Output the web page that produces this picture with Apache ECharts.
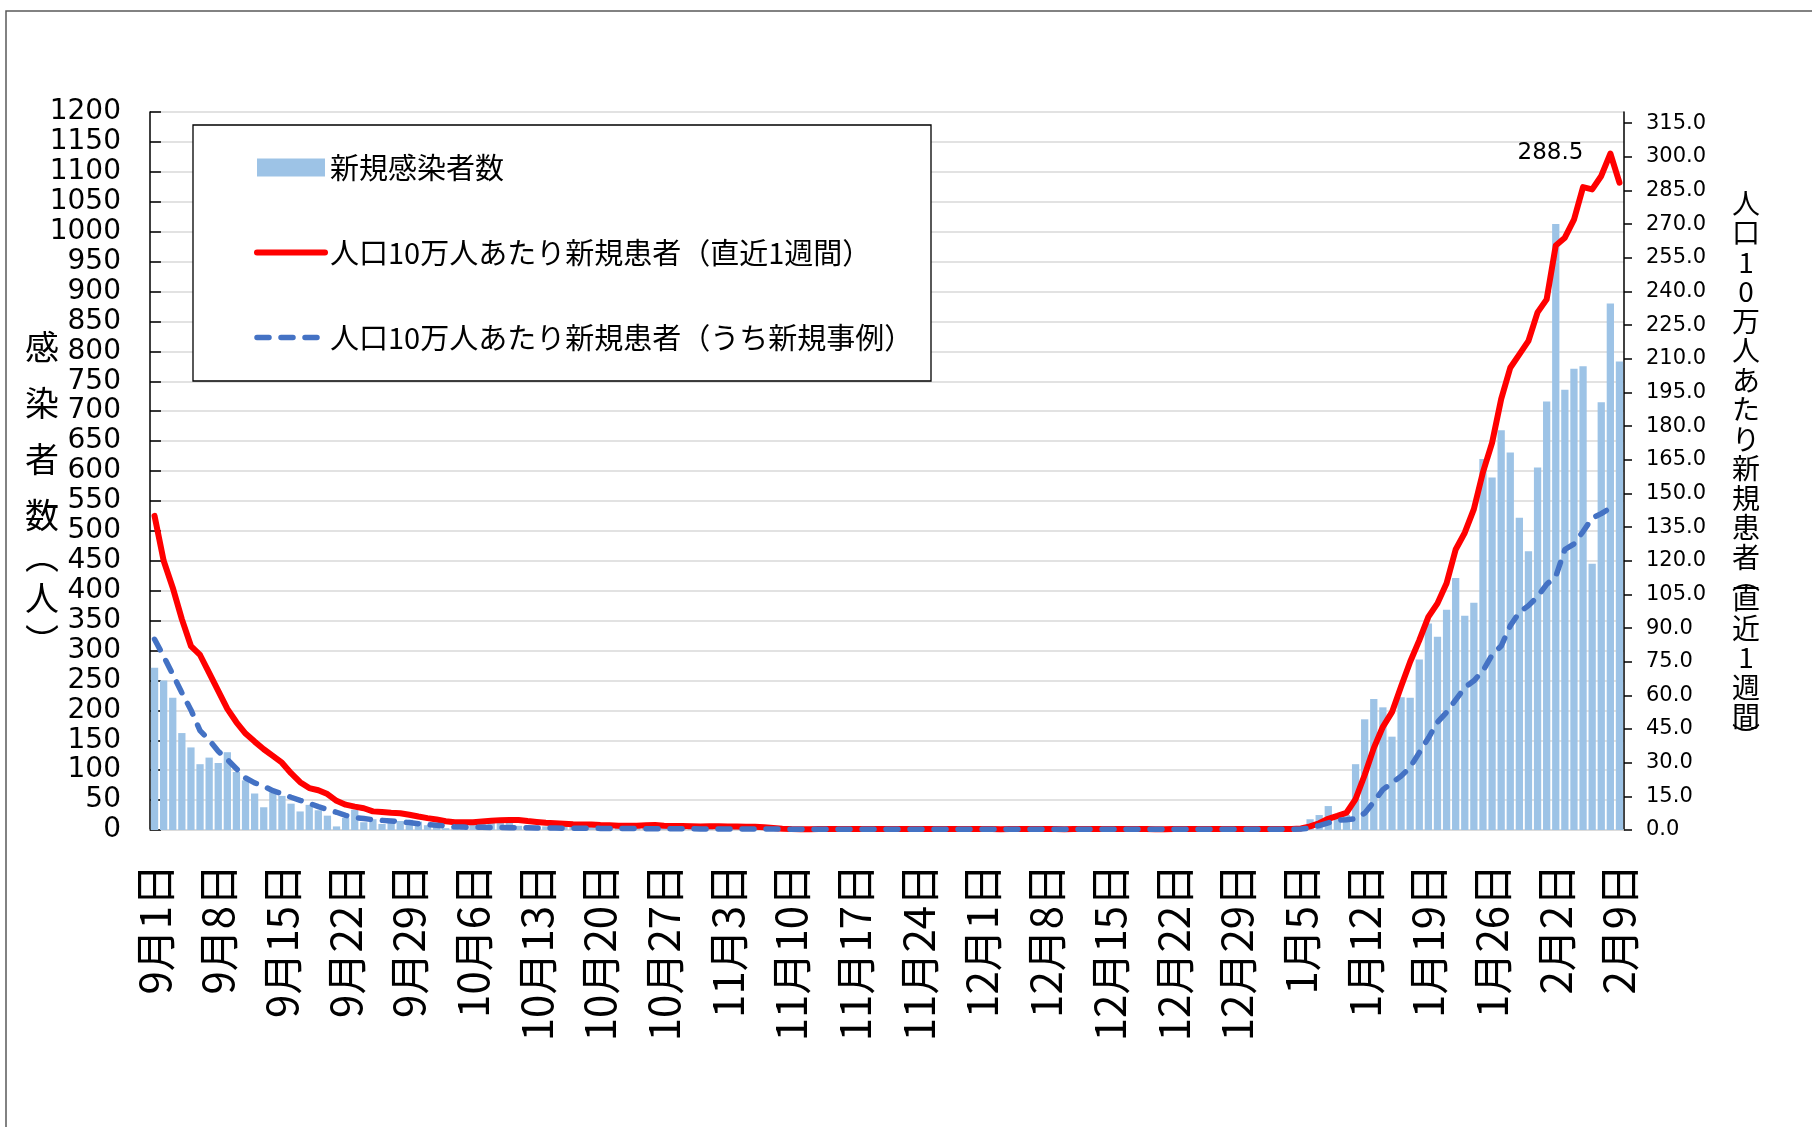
<!DOCTYPE html>
<html>
<head>
<meta charset="utf-8">
<script src="https://cdn.jsdelivr.net/npm/echarts@6/dist/echarts.min.js"></script>
<style>
html,body{margin:0;padding:0;background:#fff;}
#chart{width:1812px;height:1127px;}
</style>
</head>
<body>
<div id="chart"></div>
<script>
// ---- categories (dates) ----
const catSep = ['9月1日','9月2日','9月3日','9月4日','9月5日','9月6日','9月7日','9月8日','9月9日','9月10日','9月11日','9月12日','9月13日','9月14日','9月15日','9月16日','9月17日','9月18日','9月19日','9月20日','9月21日','9月22日','9月23日','9月24日','9月25日','9月26日','9月27日','9月28日','9月29日','9月30日'];
const catOct = ['10月1日','10月2日','10月3日','10月4日','10月5日','10月6日','10月7日','10月8日','10月9日','10月10日','10月11日','10月12日','10月13日','10月14日','10月15日','10月16日','10月17日','10月18日','10月19日','10月20日','10月21日','10月22日','10月23日','10月24日','10月25日','10月26日','10月27日','10月28日','10月29日','10月30日','10月31日'];
const catNov = ['11月1日','11月2日','11月3日','11月4日','11月5日','11月6日','11月7日','11月8日','11月9日','11月10日','11月11日','11月12日','11月13日','11月14日','11月15日','11月16日','11月17日','11月18日','11月19日','11月20日','11月21日','11月22日','11月23日','11月24日','11月25日','11月26日','11月27日','11月28日','11月29日','11月30日'];
const catDec = ['12月1日','12月2日','12月3日','12月4日','12月5日','12月6日','12月7日','12月8日','12月9日','12月10日','12月11日','12月12日','12月13日','12月14日','12月15日','12月16日','12月17日','12月18日','12月19日','12月20日','12月21日','12月22日','12月23日','12月24日','12月25日','12月26日','12月27日','12月28日','12月29日','12月30日','12月31日'];
const catJan = ['1月1日','1月2日','1月3日','1月4日','1月5日','1月6日','1月7日','1月8日','1月9日','1月10日','1月11日','1月12日','1月13日','1月14日','1月15日','1月16日','1月17日','1月18日','1月19日','1月20日','1月21日','1月22日','1月23日','1月24日','1月25日','1月26日','1月27日','1月28日','1月29日','1月30日','1月31日'];
const catFeb = ['2月1日','2月2日','2月3日','2月4日','2月5日','2月6日','2月7日','2月8日','2月9日'];

// ---- 新規感染者数 (bars, left axis) ----
const casesSep = [271,250,221,162,138,110,121,112,130,97,83,61,38,63,57,44,31,42,33,24,6,20,34,13,18,10,13,15,17,14];
const casesOct = [8,6,3,7,9,12,11,14,12,14,7,5,6,6,7,8,5,6,5,4,8,4,5,5,6,6,3,4,5,4,3];
const casesNov = [4,5,3,4,2,2,1,1,1,0,1,1,0,2,1,0,1,2,0,1,1,0,1,2,1,0,1,0,1,1];
const casesDec = [0,1,1,0,2,1,0,1,1,0,0,1,2,1,0,1,0,1,1,0,0,1,1,0,2,1,0,0,1,1,0];
const casesJan = [1,0,1,2,3,18,25,40,22,25,110,185,219,205,156,222,221,285,345,323,368,421,358,380,620,589,668,631,522,466,606];
const casesFeb = [716,1013,736,771,775,445,715,880,783];

// ---- 人口10万人あたり新規患者（直近1週間） (red, right axis) ----
const rateSep = [140,120,108,94,82,78,70,62,54,48,43,39.4,36,33,30,25.3,21.3,18.7,17.7,16,13,11.3,10.4,9.7,8.3,8.0,7.7,7.5,6.8,6.0];
const rateOct = [5.3,4.7,3.9,3.5,3.4,3.5,3.8,4.1,4.4,4.5,4.5,4.0,3.6,3.2,3.0,2.8,2.6,2.5,2.4,2.2,2.1,1.9,1.9,1.9,2.1,2.2,1.9,1.8,1.8,1.7,1.6];
const rateNov = [1.7,1.7,1.6,1.6,1.5,1.4,1.2,0.9,0.6,0.4,0.3,0.3,0.4,0.4,0.4,0.4,0.4,0.5,0.5,0.5,0.5,0.5,0.5,0.4,0.5,0.5,0.4,0.4,0.4,0.4];
const rateDec = [0.4,0.4,0.3,0.4,0.4,0.4,0.4,0.4,0.4,0.3,0.4,0.4,0.4,0.4,0.4,0.4,0.4,0.4,0.4,0.3,0.3,0.4,0.4,0.4,0.4,0.4,0.4,0.4,0.4,0.4,0.4];
const rateJan = [0.4,0.4,0.4,0.5,0.7,1.6,3.0,5.0,6.3,7.7,13.8,24.5,36.5,46,52.5,64,75,84.5,95,101,110,125,132.5,143,159.5,172.5,192,206,212,218,230.7];
const rateFeb = [236.5,260.5,264,272,286.5,285.5,291.5,301.5,288.5];

// ---- 人口10万人あたり新規患者（うち新規事例） (blue dashed, right axis) ----
const newSep = [85,77.4,69.4,61.2,53.5,44.3,40.1,35.1,31.4,27.3,23.2,21,19.5,17.5,16.2,14.6,13.2,11.9,10.4,9.1,7.9,6.5,5.6,5.1,4.6,4.3,4.0,3.6,3.3,2.8];
const newOct = [2.5,2.1,1.7,1.4,1.3,1.2,1.2,1.1,1.1,1.0,1.0,1.0,0.9,0.9,0.9,0.8,0.8,0.8,0.8,0.7,0.7,0.7,0.7,0.7,0.6,0.6,0.6,0.6,0.6,0.6,0.5];
const newNov = [0.5,0.5,0.5,0.5,0.5,0.5,0.4,0.4,0.4,0.3,0.3,0.3,0.3,0.3,0.3,0.3,0.3,0.3,0.3,0.3,0.3,0.3,0.3,0.3,0.3,0.3,0.3,0.3,0.3,0.3];
const newDec = [0.3,0.3,0.3,0.3,0.3,0.3,0.3,0.3,0.3,0.3,0.3,0.3,0.3,0.3,0.3,0.3,0.3,0.3,0.3,0.3,0.3,0.3,0.3,0.3,0.3,0.3,0.3,0.3,0.3,0.3,0.3];
const newJan = [0.3,0.3,0.3,0.3,0.4,0.8,2.0,3.2,4.3,4.6,5.0,7.5,12.5,18,21,24,28,34.5,41,48,52.5,58,63.5,66.5,71,78,82,91,97,100,104];
const newFeb = [109.5,113,125,127.5,133,139,141,143.5,null];

// ---- tick labels ----
const rightTicks = [0,15,30,45,60,75,90,105,120,135,150,165,180,195,210,225,240,255,270,285,300,315];

const categories = [].concat(catSep, catOct, catNov, catDec, catJan, catFeb);
const cases = [].concat(casesSep, casesOct, casesNov, casesDec, casesJan, casesFeb);
const rate = [].concat(rateSep, rateOct, rateNov, rateDec, rateJan, rateFeb);
const newRate = [].concat(newSep, newOct, newNov, newDec, newJan, newFeb);

const NAME_BAR = '新規感染者数';
const NAME_RED = '人口10万人あたり新規患者（直近1週間）';
const NAME_BLUE = '人口10万人あたり新規患者（うち新規事例）';

const JP = '"Noto Sans CJK JP", "Noto Sans", sans-serif';
const NUM = '"DejaVu Sans", Verdana, sans-serif';

const redData = rate.map(function (v, i) {
  if (i === rate.length - 1) {
    return { value: v, symbol: 'circle', symbolSize: 1,
      label: { show: true, position: 'top', distance: 5, offset: [-69, -13],
        formatter: function (p) { return Number(p.value).toFixed(1); },
        fontFamily: NUM, fontSize: 23, color: '#000' } };
  }
  return v;
});

const chart = echarts.init(document.getElementById('chart'), null, { renderer: 'canvas' });

const option = {
  backgroundColor: '#fff',
  animation: false,
  grid: { left: 150, right: 188, top: 112, bottom: 297, containLabel: false },
  graphic: [
    { type: 'rect', z: 0, silent: true,
      shape: { x: 6, y: 11, width: 1900, height: 1300 },
      style: { fill: 'none', stroke: '#595959', lineWidth: 1.5 } },
    { type: 'rect', z: 3, silent: true,
      shape: { x: 193, y: 125, width: 738, height: 256 },
      style: { fill: '#fff', stroke: '#000', lineWidth: 1.3 } }
  ],
  legend: {
    orient: 'vertical',
    left: 254, top: 153, padding: 0,
    itemWidth: 68, itemHeight: 18, itemGap: 56,
    z: 5,
    textStyle: { fontFamily: JP, fontSize: 29, color: '#000', lineHeight: 18 },
    data: [
      { name: NAME_BAR, icon: 'rect' },
      { name: NAME_RED, itemStyle: { opacity: 0 }, lineStyle: { width: 6 } },
      { name: NAME_BLUE, itemStyle: { opacity: 0 }, lineStyle: { width: 5.5 } }
    ]
  },
  xAxis: {
    type: 'category',
    data: categories,
    boundaryGap: true,
    axisLine: { show: true, lineStyle: { color: '#D9D9D9', width: 1.5 } },
    axisTick: { show: false },
    axisLabel: { interval: 6, rotate: 90, margin: 34, fontFamily: JP, fontSize: 42, color: '#000' },
    splitLine: { show: false }
  },
  yAxis: [
    {
      type: 'value', position: 'left', min: 0, max: 1200, interval: 50,
      axisLine: { show: true, lineStyle: { color: '#000', width: 1.5 } },
      axisTick: { show: true, inside: true, length: 11, lineStyle: { color: '#000', width: 1.5 } },
      axisLabel: { margin: 29, fontFamily: NUM, fontSize: 28, color: '#000',
        formatter: function (v) { return String(v); } },
      splitLine: { show: true, lineStyle: { color: '#D9D9D9', width: 1.5 } },
      name: '{c|感}\n{c|染}\n{c|者}\n{c|数}\n{o|︵}\n{c|人}\n{p|︶}',
      nameLocation: 'middle', nameRotate: 0, nameGap: 108, nameMoveOverlap: false,
      nameTextStyle: {
        align: 'center', padding: [33, 0, 0, 0],
        rich: {
          c: { fontFamily: JP, fontSize: 34, lineHeight: 56, color: '#000', align: 'center' },
          o: { fontFamily: JP, fontSize: 34, lineHeight: 27, color: '#000', align: 'center' },
          p: { fontFamily: JP, fontSize: 34, lineHeight: 30, color: '#000', align: 'center' }
        }
      }
    },
    {
      type: 'value', position: 'right', min: 0, max: 320, interval: 15,
      axisLine: { show: true, lineStyle: { color: '#000', width: 1.5 } },
      axisTick: { show: true, inside: false, length: 8, customValues: rightTicks, lineStyle: { color: '#000', width: 1.5 } },
      axisLabel: { margin: 22, fontFamily: NUM, fontSize: 21, color: '#000', customValues: rightTicks,
        formatter: function (v) { return Number(v).toFixed(1); } },
      splitLine: { show: false },
      name: '{c|人}\n{c|口}\n{c|1}\n{c|0}\n{c|万}\n{c|人}\n{c|あ}\n{c|た}\n{c|り}\n{c|新}\n{c|規}\n{c|患}\n{c|者}\n{p|︵}\n{c|直}\n{c|近}\n{c|1}\n{c|週}\n{c|間}\n{p|︶}',
      nameLocation: 'middle', nameRotate: 0, nameGap: 122, nameMoveOverlap: false,
      nameTextStyle: {
        align: 'center', padding: [0, 0, 10, 0],
        rich: {
          c: { fontFamily: JP, fontSize: 28, lineHeight: 29.5, color: '#000', align: 'center' },
          p: { fontFamily: JP, fontSize: 28, lineHeight: 12, color: '#000', align: 'center' }
        }
      }
    }
  ],
  series: [
    {
      name: NAME_BAR, type: 'bar', yAxisIndex: 0, data: cases,
      barCategoryGap: '20%', z: 2,
      itemStyle: { color: '#9DC3E6' }
    },
    {
      name: NAME_RED, type: 'line', yAxisIndex: 1, data: redData,
      symbol: 'none', showSymbol: true, z: 3,
      lineStyle: { color: '#FF0000', width: 6, join: 'round', cap: 'round' },
      itemStyle: { color: '#FF0000' }
    },
    {
      name: NAME_BLUE, type: 'line', yAxisIndex: 1, data: newRate,
      symbol: 'none', showSymbol: false, z: 4,
      lineStyle: { color: '#4472C4', width: 5.5, type: [12, 12], cap: 'round', join: 'round' },
      itemStyle: { color: '#4472C4' }
    }
  ]
};

chart.setOption(option);
</script>
</body>
</html>
